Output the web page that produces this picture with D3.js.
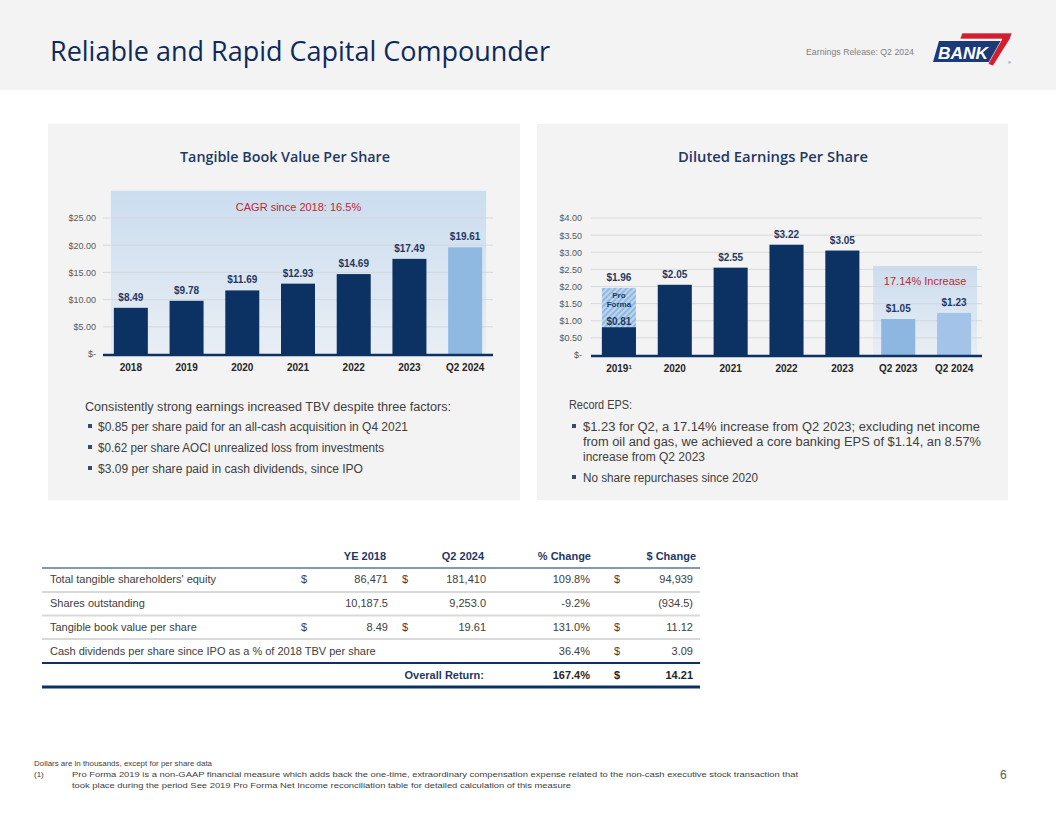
<!DOCTYPE html>
<meta charset="utf-8">
<style>
body { margin: 0; background: #fff; }
svg { display: block; font-family: "Liberation Sans", Arial, sans-serif; }
</style>
<script src="https://d3js.org/d3.v7.min.js"></script>
<svg width="1056" height="816"></svg>
<script>

// ---- data
var tbvCategories = ["2018", "2019", "2020", "2021", "2022", "2023", "Q2 2024"];
var tbvValues = [8.49, 9.78, 11.69, 12.93, 14.69, 17.49, 19.61];
var tbvTicks = [0, 5, 10, 15, 20, 25];

var epsCategories = ["2019", "2020", "2021", "2022", "2023", "Q2 2023", "Q2 2024"];
var epsValues = [1.96, 2.05, 2.55, 3.22, 3.05, 1.05, 1.23];
var epsGaap2019 = 0.81;
var epsTicks = [0, 0.5, 1, 1.5, 2, 2.5, 3, 3.5, 4];

var tableHeaders = ["YE 2018", "Q2 2024", "% Change", "$ Change"];
var tableRows = [
  ["Total tangible shareholders' equity", "$", "86,471", "$", "181,410", "109.8%", "$", "94,939"],
  ["Shares outstanding", "", "10,187.5", "", "9,253.0", "-9.2%", "", "(934.5)"],
  ["Tangible book value per share", "$", "8.49", "$", "19.61", "131.0%", "$", "11.12"],
  ["Cash dividends per share since IPO as a % of 2018 TBV per share", "", "", "", "", "36.4%", "$", "3.09"]
];
var tableTotal = ["Overall Return:", "167.4%", "$", "14.21"];

var navy = "#0b3262", labelNavy = "#1f3864", red = "#c0282d", textGray = "#404040";

var svg = d3.select("svg");
var defs = svg.append("defs");

// gradient used by the shaded callout boxes
var grad = defs.append("linearGradient").attr("id", "boxGrad")
    .attr("x1", 0).attr("y1", 0).attr("x2", 0).attr("y2", 1);
grad.append("stop").attr("offset", "0%").attr("stop-color", "#cbddef");
grad.append("stop").attr("offset", "100%").attr("stop-color", "#e9eef4");

// hatch for the pro forma part of 2019
var hatch = defs.append("pattern").attr("id", "hatch")
    .attr("width", 4).attr("height", 4)
    .attr("patternUnits", "userSpaceOnUse")
    .attr("patternTransform", "rotate(45)");
hatch.append("rect").attr("width", 4).attr("height", 4).attr("fill", "#8fb9e2");
hatch.append("line").attr("x1", 1).attr("y1", 0).attr("x2", 1).attr("y2", 4)
    .attr("stroke", "#d6e6f5").attr("stroke-width", 1.3);

// ---- header band
svg.append("rect").attr("width", 1056).attr("height", 90).attr("fill", "#f3f3f3");
svg.append("text").attr("x", 50).attr("y", 61)
    .attr("font-family", "'Open Sans', 'Noto Sans', sans-serif")
    .attr("font-size", 28).attr("fill", "#0e2a5a")
    .attr("textLength", 500).attr("lengthAdjust", "spacingAndGlyphs")
    .text("Reliable and Rapid Capital Compounder");
svg.append("text").attr("x", 806).attr("y", 55)
    .attr("font-size", 8.5).attr("fill", "#7f7f7f")
    .attr("textLength", 108).attr("lengthAdjust", "spacingAndGlyphs")
    .text("Earnings Release: Q2 2024");

// logo
var logo = svg.append("g");
logo.append("path").attr("d", "M939,41 L1001,41 L995,62 L933,62 Z").attr("fill", "#1b3a78");
logo.append("text").attr("x", 938).attr("y", 59)
    .attr("font-size", 17).attr("font-weight", "bold").attr("font-style", "italic")
    .attr("fill", "#fff").attr("textLength", 50).attr("lengthAdjust", "spacingAndGlyphs")
    .text("BANK");
logo.append("path").attr("d", "M962,33 L1012,33 L1010,39 L993,66 L988,64 L1002,39 L960,39 Z")
    .attr("fill", "#d11f2f").attr("stroke", "#fff").attr("stroke-width", 0.6);
logo.append("text").attr("x", 1008).attr("y", 64).attr("font-size", 4).attr("fill", "#1b3a78").text("®");

// ---- panels
svg.append("rect").attr("x", 48).attr("y", 124).attr("width", 472).attr("height", 376).attr("fill", "#f3f3f3");
svg.append("rect").attr("x", 537).attr("y", 124).attr("width", 471).attr("height", 376).attr("fill", "#f3f3f3");

function chartTitle(cx, txt, len) {
  svg.append("text").attr("x", cx).attr("y", 162).attr("text-anchor", "middle")
      .attr("font-family", "'Open Sans', 'Noto Sans', sans-serif")
      .attr("font-weight", 600).attr("font-size", 15).attr("fill", "#1f3864")
      .attr("textLength", len).attr("lengthAdjust", "spacingAndGlyphs")
      .text(txt);
}
chartTitle(285, "Tangible Book Value Per Share", 210);
chartTitle(773, "Diluted Earnings Per Share", 190);

function money(v) { return v === 0 ? "$-" : "$" + v.toFixed(2); }

// shared bar chart drawing
function barChart(o) {
  var g = svg.append("g");
  var x = d3.scaleBand().domain(o.categories).range(o.xRange)
      .paddingInner(0.39).paddingOuter(0.195);
  var y = d3.scaleLinear().domain(o.yDomain).range(o.yRange);
  var bw = x.bandwidth();

  // callout box
  var bx0 = x(o.box.from) - o.box.padL, bx1 = x(o.box.to) + bw + o.box.padR;
  g.append("rect")
      .attr("x", bx0).attr("y", y(o.box.top))
      .attr("width", bx1 - bx0).attr("height", y(0) - y(o.box.top))
      .attr("fill", "url(#boxGrad)");
  g.append("text")
      .attr("x", (bx0 + bx1) / 2).attr("y", o.box.labelY)
      .attr("text-anchor", "middle").attr("font-size", 11).attr("fill", red)
      .text(o.box.label);

  // gridlines
  g.selectAll(".grid").data(o.ticks.slice(1)).enter().append("line")
      .attr("x1", o.xRange[0]).attr("x2", o.xRange[1])
      .attr("y1", function(d) { return y(d); }).attr("y2", function(d) { return y(d); })
      .attr("stroke", "#cfd3d8").attr("stroke-width", 0.8);

  // y axis labels
  var ya = g.append("g").attr("transform", "translate(" + o.xRange[0] + ",0)")
      .call(d3.axisLeft(y).tickValues(o.ticks).tickFormat(money).tickSize(0).tickPadding(o.yPad));
  ya.select(".domain").remove();
  ya.selectAll("text").attr("font-size", 9).attr("fill", "#595959").attr("font-family", "'Liberation Sans', Arial, sans-serif");

  // bars
  g.selectAll(".bar").data(o.values).enter().append("rect")
      .attr("x", function(d, i) { return x(o.categories[i]); })
      .attr("y", function(d) { return y(d); })
      .attr("width", bw)
      .attr("height", function(d) { return y(0) - y(d); })
      .attr("fill", function(d, i) { return o.color(o.categories[i]); });

  // value labels
  g.selectAll(".val").data(o.values).enter().append("text")
      .attr("x", function(d, i) { return x(o.categories[i]) + bw / 2; })
      .attr("y", function(d) { return y(d) - 7; })
      .attr("text-anchor", "middle").attr("font-size", 10).attr("font-weight", "bold")
      .attr("fill", labelNavy)
      .text(money);

  // x axis
  var xa = g.append("g").attr("transform", "translate(0," + y(0) + ")")
      .call(d3.axisBottom(x).tickSize(0).tickPadding(10));
  xa.select(".domain").remove();
  xa.selectAll("text").attr("font-size", 10).attr("font-weight", "bold").attr("fill", "#262626")
      .attr("font-family", "'Liberation Sans', Arial, sans-serif");
  g.append("line").attr("x1", o.xRange[0]).attr("x2", o.xRange[1])
      .attr("y1", y(0) + 1).attr("y2", y(0) + 1)
      .attr("stroke", navy).attr("stroke-width", 2.5);

  return { g: g, x: x, y: y, xa: xa };
}

// left: tangible book value
barChart({
  categories: tbvCategories, values: tbvValues, ticks: tbvTicks,
  xRange: [103, 493], yDomain: [0, 25], yRange: [354, 218], yPad: 7,
  box: { from: "2018", to: "Q2 2024", padL: 3, padR: 4, top: 30, label: "CAGR since 2018: 16.5%", labelY: 211 },
  color: function(c) { return c === "Q2 2024" ? "#8fb9e1" : navy; }
});

// right: diluted EPS
var eps = barChart({
  categories: epsCategories, values: epsValues, ticks: epsTicks,
  xRange: [591, 982], yDomain: [0, 4], yRange: [355, 218], yPad: 9,
  box: { from: "Q2 2023", to: "Q2 2024", padL: 8, padR: 6, top: 2.6, label: "17.14% Increase", labelY: 285 },
  color: function(c) {
    if (c === "2019") return "url(#hatch)";
    if (c === "Q2 2023") return "#8db6e0";
    if (c === "Q2 2024") return "#a4c3e8";
    return navy;
  }
});

// 2019 GAAP part and pro forma labels
var x19 = eps.x("2019"), bw19 = eps.x.bandwidth(), cx19 = x19 + bw19 / 2;
eps.g.append("rect").attr("x", x19).attr("y", eps.y(epsGaap2019))
    .attr("width", bw19).attr("height", eps.y(0) - eps.y(epsGaap2019)).attr("fill", navy);
eps.g.append("text").attr("x", cx19).attr("y", eps.y(epsGaap2019) - 2)
    .attr("text-anchor", "middle").attr("font-size", 10).attr("font-weight", "bold")
    .attr("fill", labelNavy).text(money(epsGaap2019));
eps.g.append("text").attr("x", cx19).attr("y", 298)
    .attr("text-anchor", "middle").attr("font-size", 8).attr("font-weight", "bold")
    .attr("fill", labelNavy).text("Pro");
eps.g.append("text").attr("x", cx19).attr("y", 306.5)
    .attr("text-anchor", "middle").attr("font-size", 8).attr("font-weight", "bold")
    .attr("fill", labelNavy).text("Forma");
// footnote marker on the 2019 tick
eps.xa.selectAll(".tick text").filter(function(d) { return d === "2019"; })
    .append("tspan").attr("font-size", 6).attr("dy", -3).text("1");

// ---- commentary under the charts
function note(x, y, txt, len) {
  svg.append("text").attr("x", x).attr("y", y).attr("font-size", 12).attr("fill", textGray)
      .attr("textLength", len).attr("lengthAdjust", "spacingAndGlyphs").text(txt);
}
function bullet(x, y) {
  svg.append("rect").attr("x", x).attr("y", y - 7).attr("width", 4).attr("height", 4).attr("fill", "#3a4a63");
}
note(85, 411, "Consistently strong earnings increased TBV despite three factors:", 366);
bullet(88, 431); note(98, 431, "$0.85 per share paid for an all-cash acquisition in Q4 2021", 310);
bullet(88, 452); note(98, 452, "$0.62 per share AOCI unrealized loss from investments", 286);
bullet(88, 473); note(98, 473, "$3.09 per share paid in cash dividends, since IPO", 265);

note(569, 409, "Record EPS:", 63);
bullet(572, 431); note(583, 431, "$1.23 for Q2, a 17.14% increase from Q2 2023; excluding net income", 397);
note(583, 446, "from oil and gas, we achieved a core banking EPS of $1.14, an 8.57%", 398);
note(583, 461, "increase from Q2 2023", 122);
bullet(572, 482); note(583, 482, "No share repurchases since 2020", 175);

// ---- table
var tbl = svg.append("g").attr("font-size", 11);
var headerRight = [386, 484, 591, 696];
tbl.selectAll(".hdr").data(tableHeaders).enter().append("text")
    .attr("x", function(d, i) { return headerRight[i]; }).attr("y", 560)
    .attr("text-anchor", "end").attr("font-weight", "bold").attr("fill", labelNavy)
    .text(function(d) { return d; });

// column x and anchor: label, $, ye, $, q2, pct, $, chg
var colX = [50, 301, 388, 402, 486, 590, 614, 693];
var colAnchor = ["start", "start", "end", "start", "end", "end", "start", "end"];
var rowY = [583, 607, 631, 655];
tableRows.forEach(function(r, ri) {
  tbl.selectAll(".r" + ri).data(r).enter().append("text")
      .attr("x", function(d, i) { return colX[i]; }).attr("y", rowY[ri])
      .attr("text-anchor", function(d, i) { return colAnchor[i]; })
      .attr("fill", textGray)
      .text(function(d) { return d; });
});
var totX = [484, 590, 614, 693], totAnchor = ["end", "end", "start", "end"];
tbl.selectAll(".tot").data(tableTotal).enter().append("text")
    .attr("x", function(d, i) { return totX[i]; }).attr("y", 679)
    .attr("text-anchor", function(d, i) { return totAnchor[i]; })
    .attr("font-weight", "bold").attr("fill", function(d, i) { return i === 0 ? labelNavy : "#262626"; })
    .text(function(d) { return d; });

var rules = [
  { y: 568, c: navy, w: 1.2 },
  { y: 592, c: "#d9d9d9", w: 2 },
  { y: 615.5, c: "#d9d9d9", w: 2 },
  { y: 639, c: "#d9d9d9", w: 2 },
  { y: 663, c: navy, w: 2 },
  { y: 687, c: navy, w: 3 }
];
tbl.selectAll(".rule").data(rules).enter().append("line")
    .attr("x1", 42).attr("x2", 700)
    .attr("y1", function(d) { return d.y; }).attr("y2", function(d) { return d.y; })
    .attr("stroke", function(d) { return d.c; }).attr("stroke-width", function(d) { return d.w; });

// ---- footnotes
function foot(x, y, txt, len) {
  svg.append("text").attr("x", x).attr("y", y).attr("font-size", 8).attr("fill", textGray)
      .attr("textLength", len).attr("lengthAdjust", "spacingAndGlyphs").text(txt);
}
foot(34, 766, "Dollars are in thousands, except for per share data", 178);
svg.append("text").attr("x", 34).attr("y", 777).attr("font-size", 8).attr("fill", textGray).text("(1)");
foot(72, 777, "Pro Forma 2019 is a non-GAAP  financial measure which adds back the one-time, extraordinary compensation expense related to the non-cash executive stock transaction that", 726);
foot(72, 788, "took place during the period  See 2019 Pro Forma Net Income reconciliation table for detailed calculation of this measure", 499);
svg.append("text").attr("x", 1000).attr("y", 779).attr("font-size", 12).attr("fill", "#595959").text("6");

</script>
